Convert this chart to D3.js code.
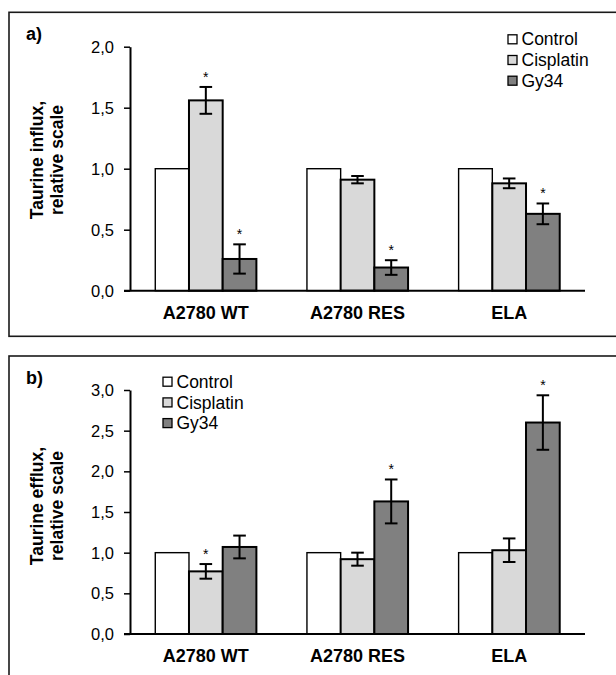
<!DOCTYPE html>
<html>
<head>
<meta charset="utf-8">
<script src="https://cdn.jsdelivr.net/npm/d3@7"></script>
<style>
  html, body { margin: 0; padding: 0; background: #fff; }
  svg { display: block; }
  text { font-family: "Liberation Sans", Arial, sans-serif; fill: #000; }
</style>
</head>
<body>
<svg id="chart" width="616" height="675"></svg>
<script>
// ---------- data ----------
const categories = ["A2780 WT", "A2780 RES", "ELA"];
const seriesNames = ["Control", "Cisplatin", "Gy34"];
const seriesColors = ["#ffffff", "#d9d9d9", "#808080"];

// panel a) taurine influx
const influxControl = [1, 1, 1];
const influxCisplatin = [1.56, 0.91, 0.88];
const influxGy34 = [0.26, 0.19, 0.63];
const influxControlErr = [0, 0, 0];
const influxCisplatinErr = [0.11, 0.03, 0.04];
const influxGy34Err = [0.12, 0.06, 0.085];
const influxControlSig = [false, false, false];
const influxCisplatinSig = [true, false, false];
const influxGy34Sig = [true, true, true];
const influxTicks = [0, 0.5, 1.0, 1.5, 2.0];
const influxTickLabels = ["0,0", "0,5", "1,0", "1,5", "2,0"];

// panel b) taurine efflux
const effluxControl = [1, 1, 1];
const effluxCisplatin = [0.77, 0.92, 1.03];
const effluxGy34 = [1.07, 1.63, 2.6];
const effluxControlErr = [0, 0, 0];
const effluxCisplatinErr = [0.09, 0.08, 0.145];
const effluxGy34Err = [0.14, 0.27, 0.335];
const effluxControlSig = [false, false, false];
const effluxCisplatinSig = [true, false, false];
const effluxGy34Sig = [false, true, true];
const effluxTicks = [0, 0.5, 1.0, 1.5, 2.0, 2.5, 3.0];
const effluxTickLabels = ["0,0", "0,5", "1,0", "1,5", "2,0", "2,5", "3,0"];

// ---------- drawing ----------
const svg = d3.select("#chart");

function drawPanel(cfg) {
  const g = svg.append("g");
  // frame
  g.append("rect")
    .attr("x", 9).attr("y", cfg.frameTop)
    .attr("width", 620).attr("height", cfg.frameHeight)
    .attr("fill", "none").attr("stroke", "#1a1a1a").attr("stroke-width", 1.6);

  g.append("text").text(cfg.label)
    .attr("x", 26).attr("y", cfg.frameTop + 28)
    .style("font-size", "18px").style("font-weight", "bold");

  const x0 = d3.scaleBand().domain(categories).range([130, 585]).paddingInner(0).paddingOuter(0);
  const bw = x0.bandwidth();
  const x1 = d3.scaleBand().domain(seriesNames).range([bw / 6, bw * 5 / 6]).padding(0);
  const y = d3.scaleLinear().domain(cfg.domain).range([cfg.y0, cfg.y1]);

  const rows = [];
  categories.forEach((c, i) => {
    cfg.values.forEach((vals, s) => {
      rows.push({ cat: c, ser: seriesNames[s], s: s, v: vals[i], e: cfg.errs[s][i], sig: cfg.sigs[s][i] });
    });
  });

  // bars
  g.selectAll("rect.bar").data(rows).enter().append("rect")
    .attr("class", "bar")
    .attr("x", d => x0(d.cat) + x1(d.ser))
    .attr("y", d => y(d.v))
    .attr("width", x1.bandwidth())
    .attr("height", d => y(0) - y(d.v))
    .attr("fill", d => seriesColors[d.s])
    .attr("stroke", "#000")
    .attr("stroke-width", d => d.s === 0 ? 1.4 : 2);

  // error bars
  const eb = rows.filter(d => d.e > 0);
  const cx = d => x0(d.cat) + x1(d.ser) + x1.bandwidth() / 2;
  const eg = g.selectAll("g.err").data(eb).enter().append("g").attr("class", "err")
    .attr("stroke", "#000").attr("stroke-width", 2);
  eg.append("line").attr("x1", cx).attr("x2", cx)
    .attr("y1", d => y(d.v + d.e)).attr("y2", d => y(d.v - d.e));
  eg.append("line").attr("x1", d => cx(d) - 6.3).attr("x2", d => cx(d) + 6.3)
    .attr("y1", d => y(d.v + d.e)).attr("y2", d => y(d.v + d.e));
  eg.append("line").attr("x1", d => cx(d) - 6.3).attr("x2", d => cx(d) + 6.3)
    .attr("y1", d => y(d.v - d.e)).attr("y2", d => y(d.v - d.e));

  // significance stars
  g.selectAll("text.star").data(rows.filter(d => d.sig)).enter().append("text")
    .attr("class", "star")
    .attr("x", cx)
    .attr("y", d => y(d.v + d.e) - 5)
    .attr("text-anchor", "middle")
    .style("font-size", "14px")
    .text("*");

  // y axis
  const yAxis = d3.axisLeft(y).tickValues(cfg.ticks).tickSize(6).tickSizeOuter(0)
    .tickFormat((d, i) => cfg.tickLabels[i]);
  const ya = g.append("g").attr("transform", "translate(130,0)").call(yAxis);
  ya.select(".domain").attr("stroke", "#000").attr("stroke-width", 2);
  ya.selectAll(".tick line").attr("stroke", "#000").attr("stroke-width", 1.5);
  ya.selectAll(".tick text").attr("x", -16).attr("dy", "0.34em")
    .style("font-size", "16.5px").style("font-family", "'Liberation Sans', Arial, sans-serif");

  // x axis line
  g.append("line").attr("x1", 124).attr("x2", 585)
    .attr("y1", y(0)).attr("y2", y(0))
    .attr("stroke", "#000").attr("stroke-width", 2);

  // category labels
  g.selectAll("text.cat").data(categories).enter().append("text")
    .attr("class", "cat")
    .attr("x", d => x0(d) + bw / 2)
    .attr("y", y(0) + 28)
    .attr("text-anchor", "middle")
    .style("font-size", "18px").style("font-weight", "bold")
    .text(d => d);

  // y title
  const t = g.append("g").attr("transform", `translate(0,${cfg.titleY})`);
  t.append("text").attr("transform", "translate(43,0) rotate(-90)")
    .attr("text-anchor", "middle").style("font-size", "17.5px").style("font-weight", "bold")
    .text(cfg.title1);
  t.append("text").attr("transform", "translate(63,0) rotate(-90)")
    .attr("text-anchor", "middle").style("font-size", "17.5px").style("font-weight", "bold")
    .text(cfg.title2);

  // legend
  const lg = g.append("g").attr("transform", `translate(${cfg.legX},${cfg.legY})`);
  seriesNames.forEach((n, i) => {
    const r = lg.append("g").attr("transform", `translate(0,${i * 20.7})`);
    r.append("rect").attr("x", 0).attr("y", -4.5).attr("width", 9).attr("height", 9)
      .attr("fill", seriesColors[i]).attr("stroke", "#000").attr("stroke-width", 1.3);
    r.append("text").attr("x", 13.5).attr("y", 0).attr("dy", "0.35em")
      .style("font-size", "17.5px").text(n);
  });
}

drawPanel({
  label: "a)", frameTop: 12.3, frameHeight: 324,
  domain: [0, 2], y0: 290.7, y1: 46.7,
  values: [influxControl, influxCisplatin, influxGy34],
  errs: [influxControlErr, influxCisplatinErr, influxGy34Err],
  sigs: [influxControlSig, influxCisplatinSig, influxGy34Sig],
  ticks: influxTicks, tickLabels: influxTickLabels,
  title1: "Taurine influx,", title2: "relative scale", titleY: 160,
  legX: 508, legY: 39.3
});

drawPanel({
  label: "b)", frameTop: 356, frameHeight: 400,
  domain: [0, 3], y0: 634, y1: 390,
  values: [effluxControl, effluxCisplatin, effluxGy34],
  errs: [effluxControlErr, effluxCisplatinErr, effluxGy34Err],
  sigs: [effluxControlSig, effluxCisplatinSig, effluxGy34Sig],
  ticks: effluxTicks, tickLabels: effluxTickLabels,
  title1: "Taurine efflux,", title2: "relative scale", titleY: 506,
  legX: 163, legY: 381.7
});
</script>
</body>
</html>
